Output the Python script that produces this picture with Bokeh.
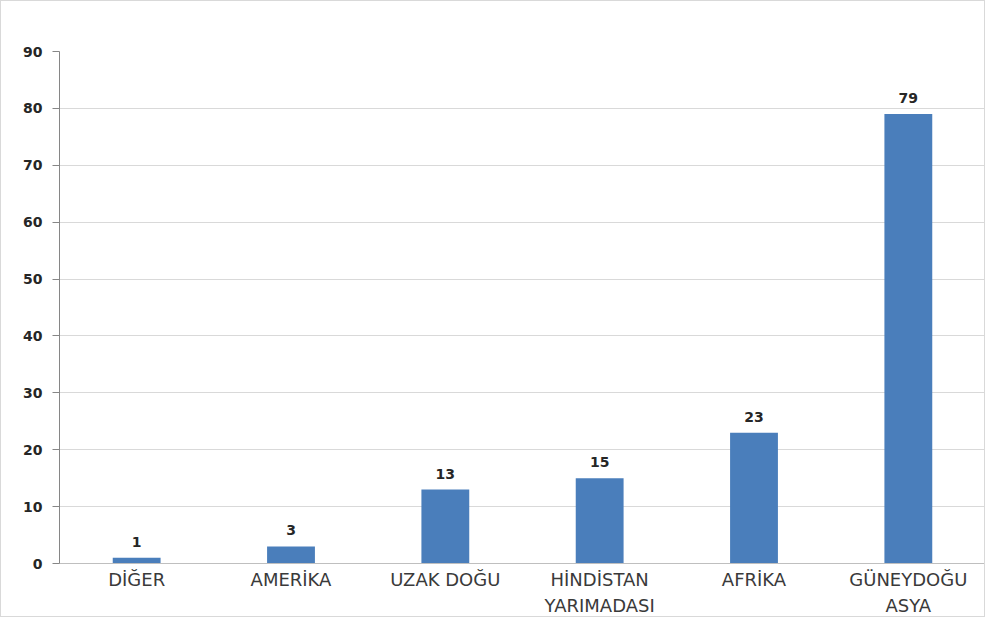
from bokeh.plotting import figure
from bokeh.models import ColumnDataSource, FixedTicker, LabelSet, CategoricalAxis, FactorRange
from bokeh.embed import file_html
from bokeh.resources import INLINE
from bokeh.core.properties import value

categories = ["DİĞER", "AMERİKA", "UZAK DOĞU", "HİNDİSTAN YARIMADASI", "AFRİKA", "GÜNEYDOĞU ASYA"]
label_line1 = ["DİĞER", "AMERİKA", "UZAK DOĞU", "HİNDİSTAN", "AFRİKA", "GÜNEYDOĞU"]
label_line2 = ["", "", "", "YARIMADASI", "", "ASYA"]
counts = [1, 3, 13, 15, 23, 79]
y_ticks = [0, 10, 20, 30, 40, 50, 60, 70, 80, 90]

source = ColumnDataSource(dict(cat=categories, val=counts, lab=[str(v) for v in counts]))

p = figure(
    x_range=FactorRange(factors=categories, range_padding=0), y_range=(0, 90),
    width=985, height=617,
    output_backend="svg", toolbar_location=None,
    x_axis_location=None,
    min_border_left=58, min_border_right=1, min_border_top=50, min_border_bottom=10,
)
p.styles = {"border": "1px solid #d9d9d9"}
p.outline_line_color = None

p.vbar(x="cat", top="val", width=0.31, source=source, color="#4a7ebb", line_color=None)

labels = LabelSet(x="cat", y="val", text="lab", source=source,
                  text_align="center", text_baseline="bottom", y_offset=11,
                  text_font=value("DejaVu Sans"), text_font_style="bold",
                  text_font_size="14px", text_color="#262626")
p.add_layout(labels)

# y axis
p.yaxis.ticker = FixedTicker(ticks=y_ticks)
p.yaxis.axis_line_color = "#868686"
p.yaxis.major_tick_line_color = "#868686"
p.yaxis.major_tick_out = 7
p.yaxis.major_tick_in = 0
p.yaxis.minor_tick_line_color = None
p.yaxis.major_label_standoff = 10
p.yaxis.major_label_text_font = "DejaVu Sans"
p.yaxis.major_label_text_font_style = "bold"
p.yaxis.major_label_text_font_size = "14px"
p.yaxis.major_label_text_color = "#262626"

# two-line category labels: one categorical axis per line, on parallel factor ranges
line2_factors = [t if t else " " * (i + 1) for i, t in enumerate(label_line2)]
p.extra_x_ranges = {
    "line1": FactorRange(factors=label_line1, range_padding=0),
    "line2": FactorRange(factors=line2_factors, range_padding=0),
}

def label_axis(name, standoff, line_color):
    ax = CategoricalAxis(x_range_name=name)
    ax.axis_line_color = line_color
    ax.major_tick_line_color = None
    ax.minor_tick_line_color = None
    ax.major_tick_out = 0
    ax.major_tick_in = 0
    ax.minor_tick_out = 0
    ax.major_label_standoff = standoff
    ax.major_label_text_font = "DejaVu Sans"
    ax.major_label_text_font_size = "18px"
    ax.major_label_text_color = "#3a3a3a"
    return ax

p.add_layout(label_axis("line1", 5, "#bfbfbf"), "below")
p.add_layout(label_axis("line2", 2, None), "below")

# grid
p.xgrid.grid_line_color = None
p.ygrid.ticker = FixedTicker(ticks=y_ticks)
p.ygrid.grid_line_color = "#d9d9d9"

open("out.html", "w").write(file_html(p, INLINE))
